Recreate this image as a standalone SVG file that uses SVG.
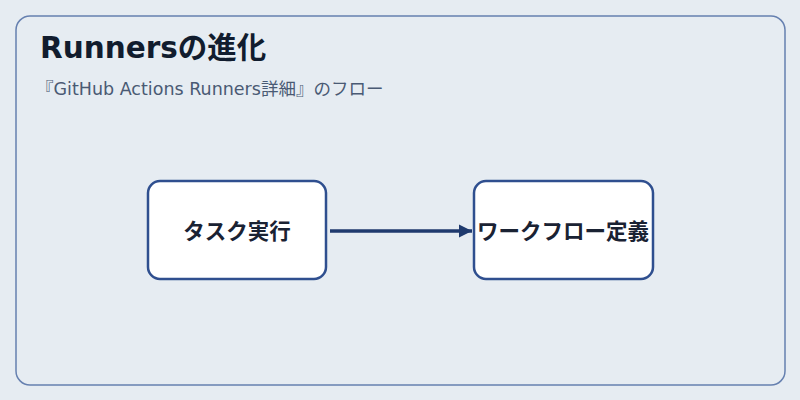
<svg xmlns="http://www.w3.org/2000/svg" width="800" height="400" viewBox="0 0 800 400">
<style>
.node{fill:#ffffff;stroke:#2f4f8f;stroke-width:2.5}
.nt{font-family:"DejaVu Sans","Noto Sans CJK JP",sans-serif;font-size:21.5px;font-weight:bold;fill:#1a2233;text-anchor:middle;dominant-baseline:central}
</style>
<defs>
<marker id="a" viewBox="0 0 10 10" refX="10" refY="5" markerWidth="13" markerHeight="16" markerUnits="userSpaceOnUse" orient="auto"><path d="M0,0L10,5L0,10z" fill="#1f3a6e"/></marker></defs>
<rect width="800" height="400" fill="#e6ecf2"/>
<rect x="16" y="16" width="769" height="369" rx="14" fill="none" stroke="#6680b0" stroke-width="1.5"/>
<text x="40" y="58" font-family="'DejaVu Sans','Noto Sans CJK JP',sans-serif" font-size="29.5" font-weight="bold" fill="#111c2e">Runnersの進化</text>
<text x="36" y="95" font-family="'DejaVu Sans','Noto Sans CJK JP',sans-serif" font-size="17.5" fill="#4a5a74">『GitHub Actions Runners詳細』のフロー</text>
<g id="connectors"><line x1="330" y1="231" x2="472" y2="231" stroke="#1f3a6e" stroke-width="3.5" marker-end="url(#a)"/></g>
<g id="n1"><rect class="node" x="148" y="181" width="178" height="98" rx="12"/><text class="nt" x="237" y="231">タスク実行</text></g>
<g id="n2"><rect class="node" x="474" y="181" width="179" height="98" rx="12"/><text class="nt" x="563" y="231">ワークフロー定義</text></g>
</svg>
